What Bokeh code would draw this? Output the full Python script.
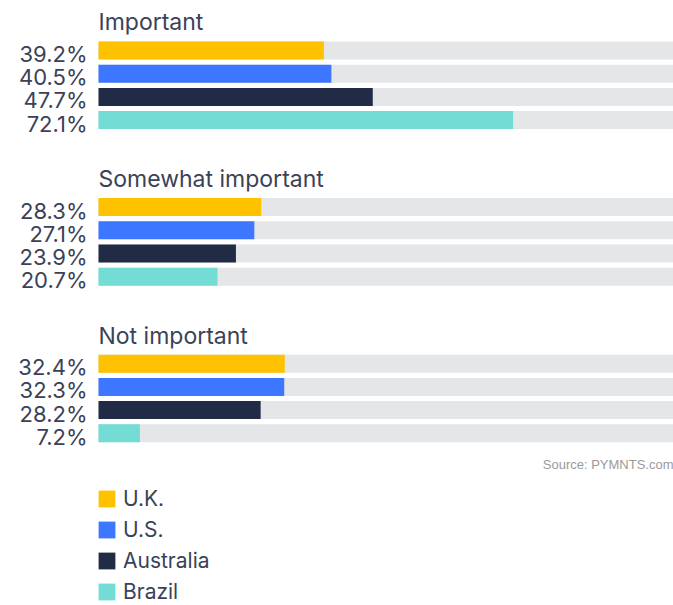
from bokeh.plotting import figure
from bokeh.models import Range1d, ColumnDataSource, Legend, LegendItem
from bokeh.core.properties import value
from bokeh.embed import file_html
from bokeh.resources import INLINE

# ---- data ----
groups = ["Important", "Somewhat important", "Not important"]
countries = ["U.K.", "U.S.", "Australia", "Brazil"]
uk = [39.2, 28.3, 32.4]
us = [40.5, 27.1, 32.3]
australia = [47.7, 23.9, 28.2]
brazil = [72.1, 20.7, 7.2]
series = [uk, us, australia, brazil]
colors = ["#FFC200", "#3D77FF", "#222B45", "#72DCD5"]
source_note = "Source: PYMNTS.com"

# ---- layout ----
W, H = 673, 605
bar_x0 = 98           # px where 0% sits
full_px = W - bar_x0  # px for 100%
ppu = full_px / 100.0
TEXT = "#3B4257"
FONT = "Inter"
TXT_SHIFT = -6.5

p = figure(width=W, height=H, output_backend="svg", toolbar_location=None,
           x_range=Range1d(-bar_x0 / ppu, 100), y_range=Range1d(H, 0),
           min_border=0, min_border_left=0, min_border_right=0,
           min_border_top=0, min_border_bottom=0)
p.axis.visible = False
p.xgrid.visible = False
p.ygrid.visible = False
p.outline_line_color = None
p.background_fill_color = "white"

group_step = 156.6
row_step = 23.2
first_center = 50.0

def row_y(g, i):
    return first_center + g * group_step + i * row_step

# background tracks
bg_y = [row_y(g, i) for g in range(len(groups)) for i in range(len(countries))]
p.hbar(y=bg_y, left=0, right=100, height=18, fill_color="#E5E6E8", line_color=None)

renderers = []
lab_x, lab_y, lab_t = [], [], []
for i, (vals, col) in enumerate(zip(series, colors)):
    ys = [row_y(g, i) for g in range(len(groups))]
    src = ColumnDataSource(dict(y=ys, right=vals))
    r = p.hbar(y="y", left=0, right="right", height=18, source=src,
               fill_color=col, line_color=None)
    renderers.append(r)
    for g, v in enumerate(vals):
        lab_x.append(-11 / ppu)
        lab_y.append(ys[g] + 10 + TXT_SHIFT)
        lab_t.append(f"{v:.1f}%")

p.text(x=lab_x, y=lab_y, text=lab_t, text_align="right", text_baseline="alphabetic",
       text_font=value(FONT), text_font_size="22px", text_color=TEXT)

# group titles
p.text(x=[0] * len(groups), y=[row_y(g, 0) - 21.7 + TXT_SHIFT for g in range(len(groups))],
       text=groups, text_align="left", text_baseline="alphabetic",
       text_font=value(FONT), text_font_size="23px", text_color=TEXT)

# source
p.text(x=[100], y=[row_y(2, 3) + 36.5 + TXT_SHIFT + 1], text=[source_note], text_align="right",
       text_baseline="alphabetic", text_font=value("Liberation Sans"),
       text_font_size="13px", text_color="#9A9A9A")

legend = Legend(items=[LegendItem(label=c, renderers=[r]) for c, r in zip(countries, renderers)],
                location=(96, 1), orientation="vertical",
                glyph_width=21, glyph_height=21, label_standoff=6,
                label_text_font=FONT, label_text_font_size="21px", label_text_color=TEXT,
                spacing=6, padding=0, margin=0, border_line_color=None,
                background_fill_alpha=0)
p.add_layout(legend, "center")

open("out.html", "w").write(file_html(p, INLINE))
